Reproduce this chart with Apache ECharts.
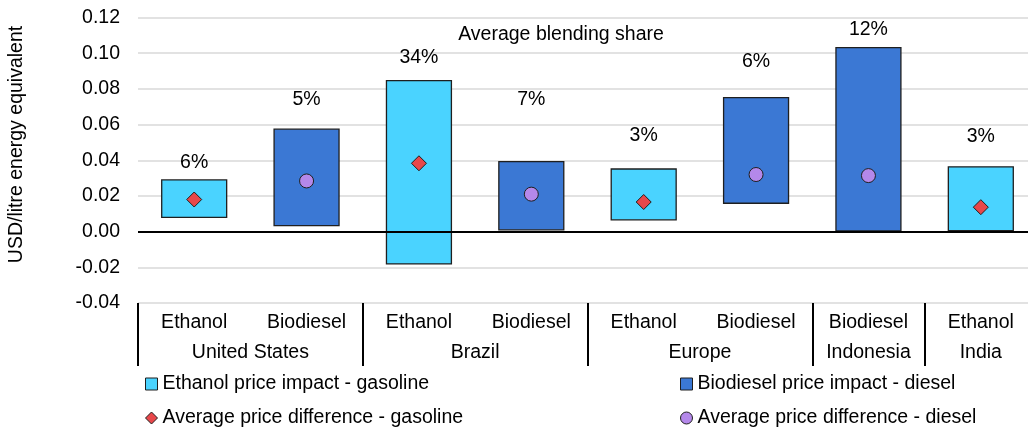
<!DOCTYPE html>
<html>
<head>
<meta charset="utf-8">
<script src="https://cdn.jsdelivr.net/npm/echarts@6/dist/echarts.min.js"></script>
<style>html,body{margin:0;padding:0;background:#fff;overflow:hidden;width:1028px;height:432px;}#chart{width:1040px;height:432px;}</style>
</head>
<body>
<div id="chart"></div>
<script>
// ---- data ----
const categories = ['Ethanol', 'Biodiesel', 'Ethanol', 'Biodiesel', 'Ethanol', 'Biodiesel', 'Biodiesel', 'Ethanol'];
const countries = ['United States', 'Brazil', 'Europe', 'Indonesia', 'India'];
const countrySpans = [2, 2, 2, 1, 1];
const lowValues = [0.008, 0.0034, -0.0181, 0.001, 0.0066, 0.0159, 0.0004, 0.0006];
const highValues = [0.029, 0.0574, 0.0846, 0.0392, 0.0351, 0.0751, 0.1031, 0.0363];
const avgValues = [0.018, 0.0284, 0.0383, 0.021, 0.0166, 0.032, 0.0314, 0.0137];
const shareLabels = ['6%', '5%', '34%', '7%', '3%', '6%', '12%', '3%'];
const shareLabelValues = [0.0384, 0.0738, 0.0973, 0.0738, 0.0536, 0.0951, 0.113, 0.053];
const yMin = -0.04, yMax = 0.12, yStep = 0.02;
const seriesNames = ['Ethanol price impact - gasoline', 'Biodiesel price impact - diesel',
  'Average price difference - gasoline', 'Average price difference - diesel'];

// ---- build ----
const FONT = '"Liberation Sans", Arial, sans-serif';
const FS = 19.5;
const C_ETH = '#4AD3FF', C_BIO = '#3B78D4', C_DIA = '#E8474A', C_CIR = '#B488EA', C_EDGE = '#1f1f1f';

const boundaries = [];
const countryAxis = new Array(categories.length * 2 + 1).fill('');
let start = 0;
countries.forEach((c, i) => {
  boundaries.push(start);
  countryAxis[start * 2 + countrySpans[i]] = c;
  start += countrySpans[i];
});

function rangeData(type) {
  const out = [];
  categories.forEach((c, i) => { if (c === type) out.push([i, lowValues[i], highValues[i]]); });
  return out;
}
function avgData(type) {
  const out = [];
  categories.forEach((c, i) => { if (c === type) out.push([i, avgValues[i]]); });
  return out;
}
function renderRange(color) {
  return function (params, api) {
    const x = api.value(0);
    const lo = api.coord([x, api.value(1)]);
    const hi = api.coord([x, api.value(2)]);
    const w = api.size([1, 0])[0] * 0.578;
    return {
      type: 'rect',
      shape: { x: lo[0] - w / 2, y: hi[1], width: w, height: lo[1] - hi[1] },
      style: { fill: color, stroke: C_EDGE, lineWidth: 1.3 }
    };
  };
}

const chart = echarts.init(document.getElementById('chart'), null, { renderer: 'canvas' });
const legendBase = { orient: 'horizontal', padding: 0, itemWidth: 12, itemHeight: 12, itemGap: 5,
  textStyle: { fontFamily: FONT, fontSize: FS, color: '#000' }, selectedMode: false };

chart.setOption({
  animation: false,
  textStyle: { fontFamily: FONT },
  grid: { left: 138, top: 17.5, width: 899, height: 285.5, containLabel: false },
  xAxis: [{
    type: 'category', data: categories, boundaryGap: true, position: 'bottom',
    axisLine: { show: false, onZero: false },
    axisTick: { show: true, length: 63, interval: (i) => boundaries.indexOf(i) >= 0,
      lineStyle: { color: '#000', width: 2 } },
    axisLabel: { interval: 0, margin: 10, fontSize: FS, color: '#000', fontFamily: FONT },
    splitLine: { show: false }
  }, {
    type: 'category', data: countryAxis, boundaryGap: false, position: 'bottom',
    axisLine: { show: false, onZero: false }, axisTick: { show: false },
    axisLabel: { interval: 0, margin: 40, fontSize: FS, color: '#000', fontFamily: FONT },
    splitLine: { show: false }
  }],
  yAxis: {
    type: 'value', min: yMin, max: yMax, interval: yStep,
    axisLine: { show: false }, axisTick: { show: false },
    axisLabel: { margin: 18, fontSize: FS, color: '#000', fontFamily: FONT,
      formatter: v => v.toFixed(2) },
    splitLine: { show: true, lineStyle: { color: '#d9d9d9', width: 1.5 } }
  },
  legend: [
    Object.assign({}, legendBase, { left: 145, top: 374,
      data: [{ name: seriesNames[0], icon: 'rect', itemStyle: { color: C_ETH, borderColor: C_EDGE, borderWidth: 1 } }] }),
    Object.assign({}, legendBase, { left: 680, top: 374,
      data: [{ name: seriesNames[1], icon: 'rect', itemStyle: { color: C_BIO, borderColor: C_EDGE, borderWidth: 1 } }] }),
    Object.assign({}, legendBase, { left: 145, top: 408,
      data: [{ name: seriesNames[2], icon: 'diamond', itemStyle: { color: C_DIA, borderColor: C_EDGE, borderWidth: 1 } }] }),
    Object.assign({}, legendBase, { left: 680, top: 408,
      data: [{ name: seriesNames[3], icon: 'circle', itemStyle: { color: C_CIR, borderColor: C_EDGE, borderWidth: 1 } }] })
  ],
  graphic: [
    { type: 'text', x: 561, y: 35, silent: true,
      style: { text: 'Average blending share', textAlign: 'center', textVerticalAlign: 'middle',
        fontSize: FS, fontFamily: FONT, fill: '#000' } },
    { type: 'text', x: 17, y: 144.5, rotation: Math.PI / 2, silent: true,
      style: { text: 'USD/litre energy equivalent', textAlign: 'center', textVerticalAlign: 'middle',
        fontSize: FS, fontFamily: FONT, fill: '#000' } }
  ],
  series: [
    { name: seriesNames[0], type: 'custom', xAxisIndex: 0, data: rangeData('Ethanol'),
      encode: { x: 0, y: [1, 2] }, renderItem: renderRange(C_ETH),
      itemStyle: { color: C_ETH, borderColor: C_EDGE, borderWidth: 1 }, z: 2,
      markLine: { silent: true, symbol: 'none', label: { show: false },
        lineStyle: { color: '#000', width: 2, type: 'solid' }, data: [{ yAxis: 0 }] } },
    { name: seriesNames[1], type: 'custom', xAxisIndex: 0, data: rangeData('Biodiesel'),
      encode: { x: 0, y: [1, 2] }, renderItem: renderRange(C_BIO),
      itemStyle: { color: C_BIO, borderColor: C_EDGE, borderWidth: 1 }, z: 2 },
    { name: seriesNames[2], type: 'scatter', xAxisIndex: 0, data: avgData('Ethanol'),
      symbol: 'diamond', symbolSize: 15,
      itemStyle: { color: C_DIA, borderColor: C_EDGE, borderWidth: 1, opacity: 1 }, z: 4 },
    { name: seriesNames[3], type: 'scatter', xAxisIndex: 0, data: avgData('Biodiesel'),
      symbol: 'circle', symbolSize: 14,
      itemStyle: { color: C_CIR, borderColor: C_EDGE, borderWidth: 1, opacity: 1 }, z: 4 },
    { name: 'share', type: 'scatter', xAxisIndex: 0, silent: true,
      data: shareLabelValues.map((v, i) => [i, v]), symbolSize: 1,
      itemStyle: { color: 'transparent' },
      label: { show: true, position: 'inside', formatter: p => shareLabels[p.dataIndex],
        fontSize: FS, color: '#000', textBorderWidth: 0, textBorderColor: 'transparent',
        opacity: 1, fontFamily: FONT }, z: 5 }
  ]
});
</script>
</body>
</html>
